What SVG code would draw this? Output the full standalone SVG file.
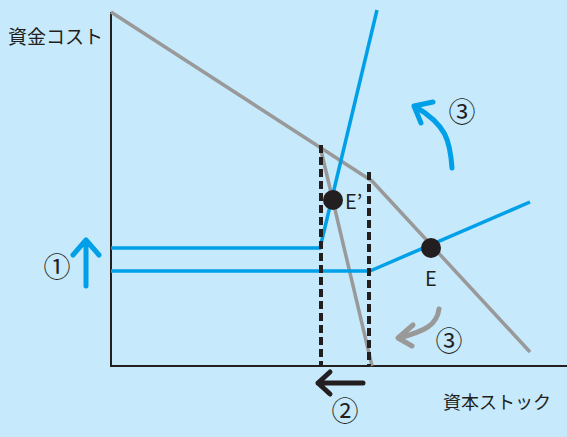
<svg xmlns="http://www.w3.org/2000/svg" width="567" height="437" viewBox="0 0 567 437">
<style>
.t{font-family:"Noto Sans CJK JP","Noto Sans",sans-serif;fill:#231f20}
.c{font-family:"Noto Sans CJK JP",sans-serif;fill:#231f20;font-size:27px;text-anchor:middle}
.ax{stroke:#231f20;stroke-width:2;fill:none}
.gr{stroke:#999;stroke-width:3.5;fill:none;stroke-linejoin:round}
.bl{stroke:#00a0e9;stroke-width:3.5;fill:none;stroke-linejoin:round}
.ds{stroke:#231f20;stroke-width:4;stroke-dasharray:8 4;fill:none}
.arr{fill:none;stroke-width:5;stroke-linecap:round;stroke-linejoin:round}
</style>
<rect width="567" height="437" fill="#c6e9fb"/>
<g id="axes">
<path class="ax" d="M111 12V366H567"/>
<text class="t" x="8" y="44" font-size="19">資金コスト</text>
<text class="t" x="443" y="409" font-size="18">資本ストック</text>
</g>
<g id="connectors">
<path class="gr" d="M111 12L372 181L530 352"/>
<path class="gr" d="M320 146L372 366"/>
<path class="bl" d="M111 271H370L530 202"/>
<path class="bl" d="M111 248H320L377 10"/>
<path class="ds" d="M321 145V366"/>
<path class="ds" d="M369 172V366"/>
</g>
<g id="E-prime">
<circle cx="333" cy="200" r="10" fill="#231f20"/>
<text class="t" x="345" y="209" font-size="20">E’</text>
</g>
<g id="E">
<circle cx="431" cy="248" r="10" fill="#231f20"/>
<text class="t" x="425" y="286" font-size="20">E</text>
</g>
<g id="arrow1">
<path class="arr" stroke="#00a0e9" d="M86 286V240M73 255L86 240L99 255"/>
<text class="c" x="57" y="277">①</text>
</g>
<g id="arrow3-up">
<path class="arr" stroke="#00a0e9" d="M452 168C450 140 446 125 416 107M433 102L414 106L421 123"/>
<text class="c" x="462" y="122">③</text>
</g>
<g id="arrow3-down">
<path class="arr" stroke="#999" d="M439 309C437 325 425 331 399 338M413 325L398 338L412 346"/>
<text class="c" x="449" y="351">③</text>
</g>
<g id="arrow2">
<path class="arr" stroke="#231f20" d="M363 383H318M330 372L318 383L330 394"/>
<text class="c" x="345" y="421">②</text>
</g>
</svg>
